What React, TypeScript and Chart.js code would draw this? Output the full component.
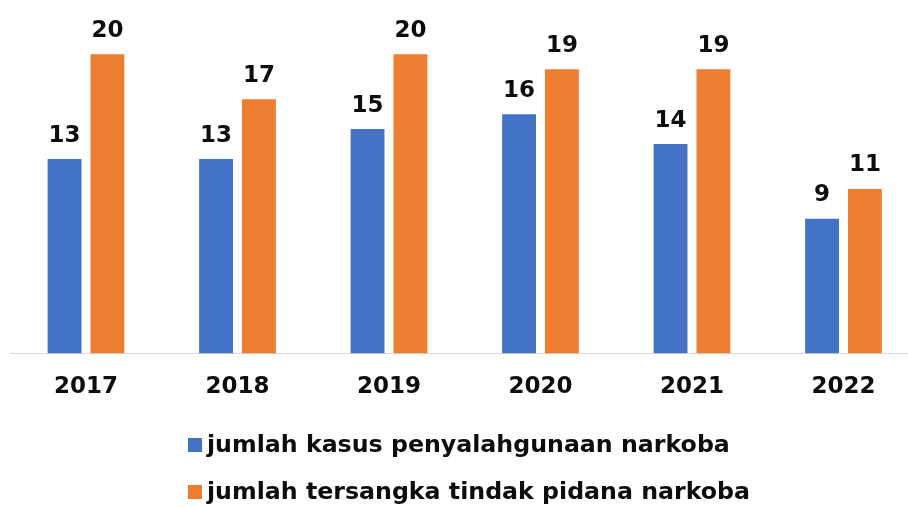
import React, { useEffect, useRef } from "react";
import { Chart, registerables } from "chart.js";

Chart.register(...registerables);

const years = ["2017", "2018", "2019", "2020", "2021", "2022"];
const kasus = [13, 13, 15, 16, 14, 9];
const tersangka = [20, 17, 20, 19, 19, 11];
const seriesLabels = [
  "jumlah kasus penyalahgunaan narkoba",
  "jumlah tersangka tindak pidana narkoba",
];
const seriesColors = ["#4472C4", "#ED7D31"];

const FONT = "'DejaVu Sans', Verdana, sans-serif";
const TEXT = "#0d0d0d";

const labelPlugin = {
  id: "valueLabels",
  afterDatasetsDraw(chart: any) {
    const ctx = chart.ctx;
    ctx.save();
    ctx.font = `bold 23px ${FONT}`;
    ctx.fillStyle = TEXT;
    ctx.textAlign = "center";
    ctx.textBaseline = "alphabetic";
    chart.data.datasets.forEach((ds: any, i: number) => {
      const meta = chart.getDatasetMeta(i);
      meta.data.forEach((bar: any, j: number) => {
        ctx.fillText(String(ds.data[j]), bar.x, bar.y - 17.5);
      });
    });
    ctx.restore();
  },
};

const legendPlugin = {
  id: "stackedLegend",
  afterDraw(chart: any) {
    const ctx = chart.ctx;
    ctx.save();
    ctx.font = `bold 23.7px ${FONT}`;
    ctx.textAlign = "left";
    ctx.textBaseline = "middle";
    chart.data.datasets.forEach((ds: any, i: number) => {
      const cy = 445 + i * 47;
      ctx.fillStyle = ds.backgroundColor;
      ctx.fillRect(188, cy - 7, 14, 14);
      ctx.fillStyle = TEXT;
      ctx.fillText(ds.label, 207, cy + 1);
    });
    ctx.restore();
  },
};

export default function App() {
  const ref = useRef<HTMLCanvasElement>(null);
  useEffect(() => {
    if (!ref.current) return;
    const chart = new Chart(ref.current, {
      type: "bar",
      data: {
        labels: years,
        datasets: [
          {
            label: seriesLabels[0],
            data: kasus,
            backgroundColor: seriesColors[0],
            categoryPercentage: 0.566,
            barPercentage: 0.79,
          },
          {
            label: seriesLabels[1],
            data: tersangka,
            backgroundColor: seriesColors[1],
            categoryPercentage: 0.566,
            barPercentage: 0.79,
          },
        ],
      },
      options: {
        responsive: false,
        animation: false,
        devicePixelRatio: 1,
        layout: { padding: { left: 10.25, right: 0.75, top: 9.5, bottom: 86 } },
        plugins: {
          legend: { display: false },
          tooltip: { enabled: false },
        },
        scales: {
          x: {
            grid: { display: false, drawTicks: false },
            border: { display: true, color: "#d9d9d9", width: 1 },
            ticks: {
              color: TEXT,
              padding: 20,
              font: { family: FONT, size: 23, weight: "bold" },
            },
          },
          y: { display: false, min: 0, max: 23 },
        },
      },
      plugins: [labelPlugin, legendPlugin],
    });
    return () => chart.destroy();
  }, []);
  return (
    <div
      style={{
        position: "fixed",
        left: 0,
        top: 0,
        width: 908,
        height: 507,
        overflow: "hidden",
        background: "#fff",
      }}
    >
      <canvas ref={ref} width={920} height={507} style={{ display: "block" }} />
    </div>
  );
}
